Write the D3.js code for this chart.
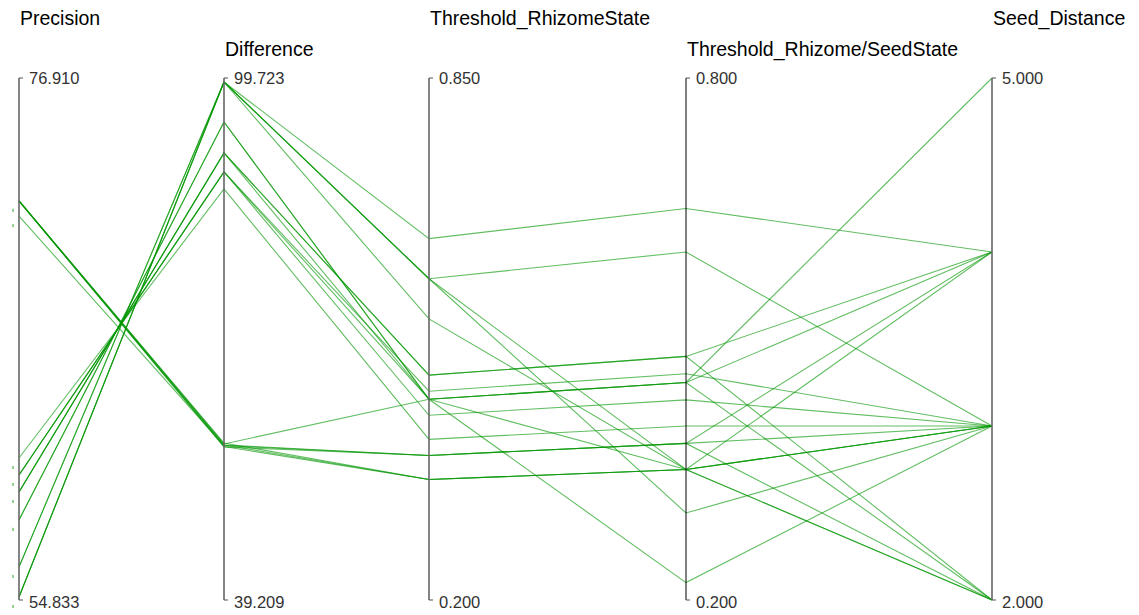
<!DOCTYPE html>
<html><head><meta charset="utf-8">
<script src="https://cdn.jsdelivr.net/npm/d3@7"></script>
<style>
html,body{margin:0;padding:0;background:#fff;}
svg{display:block;}
</style></head>
<body>
<svg id="chart" width="1139" height="615"></svg>
<script>
// ---- data ----
const dimensions = ["Precision", "Difference", "Threshold_RhizomeState", "Threshold_Rhizome/SeedState", "Seed_Distance"];
const domainMin = [54.833, 39.209, 0.200, 0.200, 2.000];
const domainMax = [76.910, 99.723, 0.850, 0.800, 5.000];
const precision = [54.96, 54.96, 54.96, 56.23, 56.23, 58.22, 58.22, 59.40, 59.40, 59.40, 60.12, 60.12, 60.12, 60.84,
                   71.71, 71.71, 71.71, 71.71, 71.71, 71.07, 71.71];
const difference = [99.26, 99.26, 99.26, 99.26, 99.26, 94.62, 94.62, 91.03, 91.03, 91.03, 88.83, 88.83, 88.83, 86.86,
                    57.18, 57.00, 57.41, 56.95, 57.18, 57.10, 57.30];
const thresholdRhizome = [0.65, 0.60, 0.60, 0.55, 0.60, 0.45, 0.45, 0.48, 0.48, 0.45, 0.46, 0.43, 0.45, 0.40,
                          0.35, 0.35, 0.35, 0.38, 0.38, 0.38, 0.45];
const thresholdRhizomeSeed = [0.65, 0.60, 0.30, 0.35, 0.35, 0.22, 0.45, 0.48, 0.48, 0.45, 0.46, 0.43, 0.45, 0.40,
                              0.35, 0.35, 0.35, 0.38, 0.38, 0.38, 0.35];
const seedDistance = [4, 3, 3, 2, 3, 3, 5, 4, 2, 4, 3, 3, 2, 3,
                      2, 3, 4, 3, 4, 2, 3];
const columns = [precision, difference, thresholdRhizome, thresholdRhizomeSeed, seedDistance];
const rows = precision.map((_, i) => columns.map(c => c[i]));

// ---- layout ----
const axisX = [19, 224, 429, 686, 992];
const yTop = 78, yBottom = 600;
const svg = d3.select("#chart");
const x = d3.scaleOrdinal().domain(dimensions).range(axisX);
const y = dimensions.map((d, i) => d3.scaleLinear().domain([domainMin[i], domainMax[i]]).range([yBottom, yTop]));

// lines
const line = d3.line().x(d => d[0]).y(d => d[1]);
svg.append("g").selectAll("path").data(rows).join("path")
  .attr("d", r => line(r.map((v, i) => [x(dimensions[i]), y[i](v)])))
  .attr("fill", "none")
  .attr("stroke", "rgb(0,150,0)")
  .attr("stroke-opacity", 0.62)
  .attr("stroke-width", 1.1);

// small markers left of the first axis
svg.append("g").selectAll("rect").data(precision).join("rect")
  .attr("x", x(dimensions[0]) - 7).attr("y", d => y[0](d) + 8)
  .attr("width", 2).attr("height", 3)
  .attr("fill", "rgb(150,210,150)");

// axes
const axes = svg.append("g").selectAll("g").data(dimensions).join("g")
  .attr("transform", d => `translate(${x(d)},0)`);
axes.append("line")
  .attr("y1", yTop).attr("y2", yBottom)
  .attr("stroke", (d, i) => i === 3 ? "#000" : "#666")
  .attr("stroke-width", (d, i) => i === 3 ? 1 : 1.6);
axes.append("path")
  .attr("d", `M0,${yTop}h4M0,${yBottom}h4`)
  .attr("stroke", "#555").attr("stroke-width", 1).attr("fill", "none");
axes.append("text")
  .attr("x", 10).attr("y", yTop + 6)
  .attr("font-family", "Liberation Sans, Arial, sans-serif").attr("font-size", 16.5)
  .attr("fill", "#333")
  .text((d, i) => d3.format(".3f")(domainMax[i]));
axes.append("text")
  .attr("x", 10).attr("y", yBottom + 8)
  .attr("font-family", "Liberation Sans, Arial, sans-serif").attr("font-size", 16.5)
  .attr("fill", "#333")
  .text((d, i) => d3.format(".3f")(domainMin[i]));
axes.append("text")
  .attr("x", 1).attr("y", (d, i) => i % 2 === 0 ? 25 : 56)
  .attr("font-family", "Liberation Sans, Arial, sans-serif").attr("font-size", 19.5)
  .attr("fill", "#000")
  .text(d => d);
</script>
</body></html>
